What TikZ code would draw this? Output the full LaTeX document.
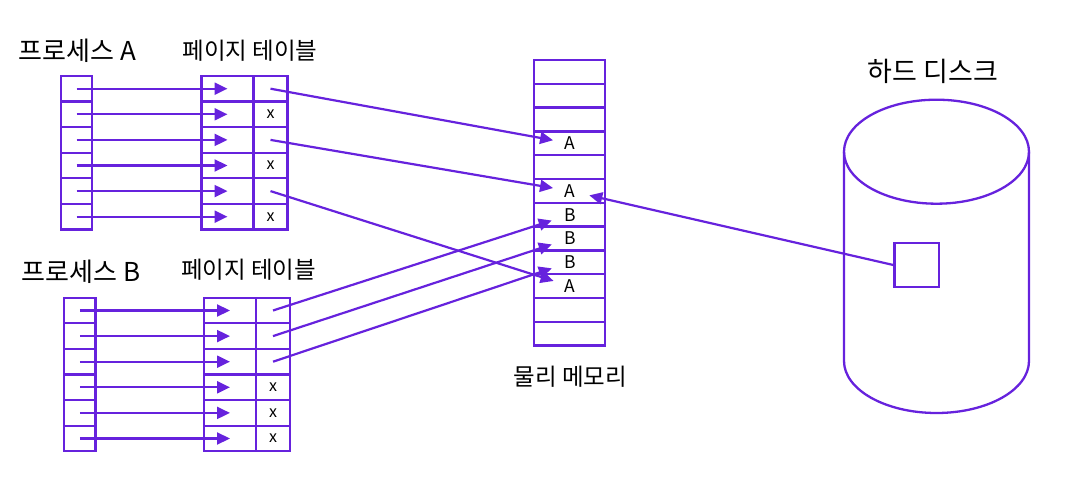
\documentclass[tikz,border=0pt]{standalone}
\usepackage{fontspec}
\setmainfont{Noto Sans CJK KR}
\usetikzlibrary{arrows.meta,positioning}
\definecolor{vio}{RGB}{102,34,221}

\begin{document}
\begin{tikzpicture}[x=1pt,y=-1pt,
  cellbox/.style={draw=vio,line width=2.3pt,outer sep=0pt,inner sep=0pt,minimum height=25.6pt,font=\fontsize{16}{16}\selectfont},
  memcell/.style={cellbox,minimum width=71pt,minimum height=23.8pt,font=\fontsize{17.5}{17.5}\selectfont},
  link/.style={draw=vio,line width=2.2pt,-{Triangle[length=13pt,width=12pt]}},
  lbl/.style={font=\fontsize{26}{26}\selectfont}]
\useasboundingbox (0,0) rectangle (1072,484);

% process A and its page table
\node[cellbox,minimum width=31pt] (pa1) at (76.5,88.7) {};
\node[cellbox,minimum width=52pt] (ta1) at (227.5,88.7) {};
\node[cellbox,minimum width=34pt,right=0pt of ta1] (xa1) {};
\foreach \i/\t [count=\j] in {2/x,3/,4/x,5/,6/x} {
  \node[cellbox,minimum width=31pt,below=0pt of pa\j] (pa\i) {};
  \node[cellbox,minimum width=52pt,below=0pt of ta\j] (ta\i) {};
  \node[cellbox,minimum width=34pt,below=0pt of xa\j] (xa\i) {\t};
}
\node[lbl] (procA) at (77.5,51) {프로세스 A};
\node[lbl,font=\fontsize{23.5}{23.5}\selectfont] (tabA) at (250,50.5) {페이지 테이블};

% process B and its page table
\node[cellbox,minimum width=31.5pt] (pb1) at (79.8,310.5) {};
\node[cellbox,minimum width=52pt] (tb1) at (230,310.5) {};
\node[cellbox,minimum width=34pt,right=0pt of tb1] (xb1) {};
\foreach \i/\t [count=\j] in {2/,3/,4/x,5/x,6/x} {
  \node[cellbox,minimum width=31.5pt,below=0pt of pb\j] (pb\i) {};
  \node[cellbox,minimum width=52pt,below=0pt of tb\j] (tb\i) {};
  \node[cellbox,minimum width=34pt,below=0pt of xb\j] (xb\i) {\t};
}
\node[lbl] (procB) at (81,271.5) {프로세스 B};
\node[lbl,font=\fontsize{23.5}{23.5}\selectfont] (tabB) at (248.5,270) {페이지 테이블};

% physical memory
\node[memcell] (m1) at (569.8,71.9) {};
\foreach \i/\t [count=\j] in {2/,3/,4/A,5/,6/A,7/B,8/B,9/B,10/A,11/,12/} {
  \node[memcell,below=0pt of m\j] (m\i) {\t};
}
\node[lbl,font=\fontsize{23.5}{23.5}\selectfont] (mem) at (570.5,376.5) {물리 메모리};

% hard disk
\draw[vio,line width=2.3pt] (844,151.7) -- (844,361)
  arc[start angle=180,end angle=0,x radius=92.5,y radius=52] -- (1029,151.7);
\draw[vio,line width=2.3pt] (936.5,151.7) ellipse [x radius=92.5,y radius=52];
\node[draw=vio,line width=2.3pt,minimum width=44.5pt,minimum height=43.4pt] (blk) at (916.7,265) {};
\node[lbl,font=\fontsize{27}{27}\selectfont] (disk) at (933,71.5) {하드 디스크};

% arrows
\foreach \i in {1,...,6} {
  \draw[link] (pa\i.center) -- (ta\i.center);
  \draw[link] (pb\i.center) -- (tb\i.center);
}
\draw[link,shorten >=17pt] (xa1.center) -- (m4.center);
\draw[link,shorten >=17pt] (xa3.center) -- (m6.center);
\draw[link,shorten >=17pt] (xa5.center) -- (m10.center);
\draw[link,shorten >=19pt] (xb1.center) -- (m7.center);
\draw[link,shorten >=19pt] (xb2.center) -- (m8.center);
\draw[link,shorten >=19pt] (xb3.center) -- (m9.center);
\draw[link,shorten >=20pt] (blk.west) -- (m6.center);
\end{tikzpicture}
\end{document}
